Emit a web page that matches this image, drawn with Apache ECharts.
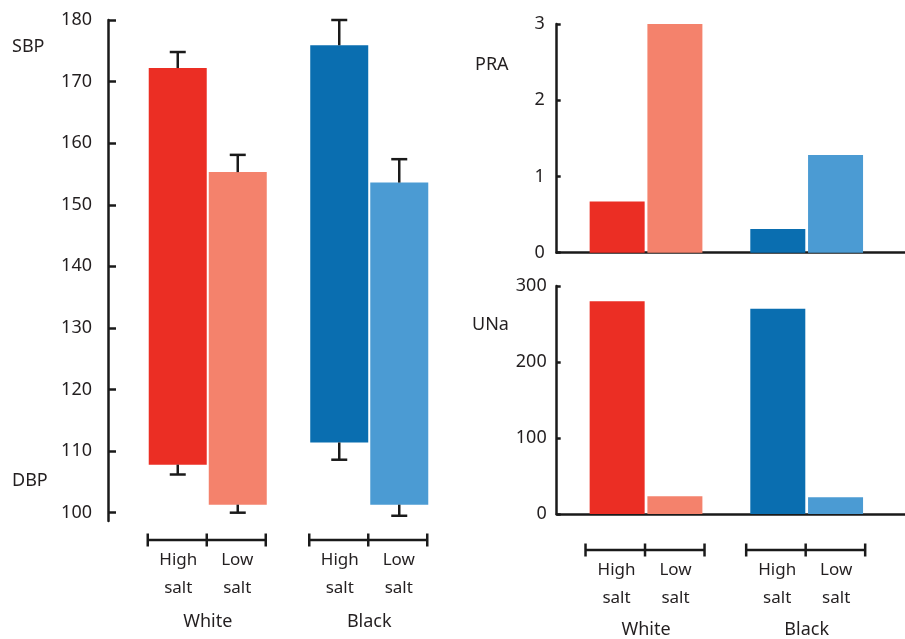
<!DOCTYPE html>
<html><head><meta charset="utf-8">
<script src="https://cdn.jsdelivr.net/npm/echarts@6/dist/echarts.min.js"></script>
<style>html,body{margin:0;padding:0;background:#fff}#c{width:905px;height:639px}</style>
</head><body><div id="c"></div>
<script>
// ---- data ----
const groups = ['White', 'Black'];
const saltLevels = ['High salt', 'Low salt'];
const bpTicks = [100, 110, 120, 130, 140, 150, 160, 170, 180];
const sbpHigh = [172.2, 175.9];
const sbpHighErr = [174.8, 180.0];
const dbpHigh = [107.8, 111.4];
const dbpHighErr = [106.2, 108.6];
const sbpLow = [155.3, 153.6];
const sbpLowErr = [158.1, 157.4];
const dbpLow = [101.3, 101.3];
const dbpLowErr = [100.0, 99.5];
const praHigh = [0.67, 0.31];
const praLow = [3.02, 1.28];
const unaHigh = [280, 270];
const unaLow = [23.5, 22];
const highColors = ['#EB2E24', '#0A6EB0'];
const lowColors = ['#F4826C', '#4B9BD3'];

// ---- style ----
const FONT = 'Noto Sans';
const TXT = '#231f20';
const INK = '#1a1a1a';
const AX = { lineStyle: { color: INK, width: 2.5 } };
const BP_MIN = 98.65;

function labelRich(lh3) {
  return {
    a: { width: 59, align: 'center', lineHeight: 28, fontSize: 17, fontFamily: FONT, color: TXT },
    b: { width: 118, align: 'center', lineHeight: lh3, fontSize: 18, fontFamily: FONT, color: TXT }
  };
}
const groupLabel = name => '{a|High}{a|Low}\n{a|salt}{a|salt}\n{b|' + name + '}';

function errRender(offset) {
  return function (params, api) {
    const i = api.value(0);
    const p0 = api.coord([i, api.value(1)]);
    const p1 = api.coord([i, api.value(2)]);
    const x = p0[0] + offset;
    const st = { stroke: INK, lineWidth: 2.5 };
    return { type: 'group', children: [
      { type: 'line', shape: { x1: x, y1: p0[1], x2: x, y2: p1[1] }, style: st },
      { type: 'line', shape: { x1: x - 8, y1: p1[1], x2: x + 8, y2: p1[1] }, style: st }
    ] };
  };
}

function bracketRender(yVal, dy, half) {
  return function (params, api) {
    const c = api.coord([api.value(0), yVal]);
    const x = c[0] - 1, y = c[1] + dy;
    const st = { stroke: INK, lineWidth: 2.5 };
    return { type: 'group', children: [
      { type: 'line', shape: { x1: x - half, y1: y, x2: x + half, y2: y }, style: st },
      { type: 'line', shape: { x1: x - half, y1: y - 6.5, x2: x - half, y2: y + 6.5 }, style: st },
      { type: 'line', shape: { x1: x, y1: y - 6.5, x2: x, y2: y + 6.5 }, style: st },
      { type: 'line', shape: { x1: x + half, y1: y - 6.5, x2: x + half, y2: y + 6.5 }, style: st }
    ] };
  };
}

const colored = (vals, cols) => vals.map((v, i) => ({ value: v, itemStyle: { color: cols[i] } }));
const coloredXY = (vals, cols) => vals.map((v, i) => ({ value: [i, v], itemStyle: { color: cols[i] } }));

const chart = echarts.init(document.getElementById('c'), null, { renderer: 'canvas' });
const option = {
  animation: false,
  backgroundColor: '#fff',
  textStyle: { fontFamily: FONT, color: TXT },
  grid: [
    { left: 127, width: 323, top: 20, height: 501 },
    { left: 556.7, right: 0, top: 24, height: 228.7 },
    { left: 556.7, right: 0, top: 286, height: 229.7 }
  ],
  xAxis: [
    { gridIndex: 0, type: 'category', data: groups,
      axisLine: { show: false }, axisTick: { show: false },
      axisLabel: { margin: 25, interval: 0, formatter: v => groupLabel(v), rich: labelRich(39) } },
    { gridIndex: 1, type: 'value', min: -0.556, max: 1.612,
      axisLine: { show: true, onZero: false, lineStyle: AX.lineStyle },
      axisTick: { show: false }, axisLabel: { show: false }, splitLine: { show: false } },
    { gridIndex: 2, type: 'value', min: -0.556, max: 1.612,
      axisLine: { show: true, onZero: false, lineStyle: AX.lineStyle },
      axisTick: { show: false }, splitLine: { show: false },
      axisLabel: { margin: 42, customValues: [0, 1],
        formatter: v => groupLabel(groups[Math.round(v)]), rich: labelRich(36) } }
  ],
  yAxis: [
    { gridIndex: 0, type: 'value', min: BP_MIN, max: 180, offset: 19,
      axisLine: { show: true, onZero: false, lineStyle: AX.lineStyle },
      axisTick: { show: true, inside: true, length: 8, lineStyle: { color: INK, width: 2.5 }, customValues: bpTicks },
      axisLabel: { margin: 16, fontSize: 18, color: TXT, fontFamily: FONT, customValues: bpTicks },
      splitLine: { show: false } },
    { gridIndex: 1, type: 'value', min: 0, max: 3, interval: 1,
      axisLine: { show: true, onZero: false, lineStyle: AX.lineStyle },
      axisTick: { show: true, inside: true, length: 4, lineStyle: { color: INK, width: 2.5 } },
      axisLabel: { margin: 12, fontSize: 18, color: TXT, fontFamily: FONT },
      splitLine: { show: false } },
    { gridIndex: 2, type: 'value', min: 0, max: 300, interval: 100,
      axisLine: { show: true, onZero: false, lineStyle: AX.lineStyle },
      axisTick: { show: true, inside: true, length: 4, lineStyle: { color: INK, width: 2.5 } },
      axisLabel: { margin: 10, fontSize: 18, color: TXT, fontFamily: FONT },
      splitLine: { show: false } }
  ],
  series: [
    // BP floating bars (transparent DBP base + SBP-DBP body)
    { name: 'high-base', type: 'bar', xAxisIndex: 0, yAxisIndex: 0, stack: 'high', barWidth: 58, barGap: '3.5%',
      data: dbpHigh, itemStyle: { color: 'transparent' }, silent: true },
    { name: saltLevels[0], type: 'bar', xAxisIndex: 0, yAxisIndex: 0, stack: 'high', barWidth: 58, barGap: '3.5%',
      data: colored(sbpHigh.map((v, i) => v - dbpHigh[i]), highColors) },
    { name: 'low-base', type: 'bar', xAxisIndex: 0, yAxisIndex: 0, stack: 'low', barWidth: 58, barGap: '3.5%',
      data: dbpLow, itemStyle: { color: 'transparent' }, silent: true },
    { name: saltLevels[1], type: 'bar', xAxisIndex: 0, yAxisIndex: 0, stack: 'low', barWidth: 58, barGap: '3.5%',
      data: colored(sbpLow.map((v, i) => v - dbpLow[i]), lowColors) },
    // error bars
    { type: 'custom', xAxisIndex: 0, yAxisIndex: 0, clip: false, z: 5, renderItem: errRender(-30),
      data: groups.map((g, i) => [i, sbpHigh[i], sbpHighErr[i]]) },
    { type: 'custom', xAxisIndex: 0, yAxisIndex: 0, clip: false, z: 5, renderItem: errRender(-30),
      data: groups.map((g, i) => [i, dbpHigh[i], dbpHighErr[i]]) },
    { type: 'custom', xAxisIndex: 0, yAxisIndex: 0, clip: false, z: 5, renderItem: errRender(30),
      data: groups.map((g, i) => [i, sbpLow[i], sbpLowErr[i]]) },
    { type: 'custom', xAxisIndex: 0, yAxisIndex: 0, clip: false, z: 5, renderItem: errRender(30),
      data: groups.map((g, i) => [i, dbpLow[i], dbpLowErr[i]]) },
    // brackets
    { type: 'custom', xAxisIndex: 0, yAxisIndex: 0, clip: false, renderItem: bracketRender(BP_MIN, 19, 59),
      data: groups.map((g, i) => [i, BP_MIN]) },
    // PRA
    { type: 'bar', xAxisIndex: 1, yAxisIndex: 1, barWidth: 55, barGap: '5%', data: coloredXY(praHigh, highColors) },
    { type: 'bar', xAxisIndex: 1, yAxisIndex: 1, barWidth: 55, barGap: '5%', data: coloredXY(praLow, lowColors) },
    // UNa
    { type: 'bar', xAxisIndex: 2, yAxisIndex: 2, barWidth: 55, barGap: '5%', data: coloredXY(unaHigh, highColors) },
    { type: 'bar', xAxisIndex: 2, yAxisIndex: 2, barWidth: 55, barGap: '5%', data: coloredXY(unaLow, lowColors) },
    { type: 'custom', xAxisIndex: 2, yAxisIndex: 2, clip: false, renderItem: bracketRender(0, 36, 59.5),
      data: groups.map((g, i) => [i, 0]) }
  ],
  graphic: [
    { type: 'text', left: 12, top: 38, style: { text: 'SBP', fontSize: 18, fontFamily: FONT, fill: TXT } },
    { type: 'text', left: 12, top: 472, style: { text: 'DBP', fontSize: 18, fontFamily: FONT, fill: TXT } },
    { type: 'text', left: 475, top: 56, style: { text: 'PRA', fontSize: 18, fontFamily: FONT, fill: TXT } },
    { type: 'text', left: 472, top: 316, style: { text: 'UNa', fontSize: 18, fontFamily: FONT, fill: TXT } }
  ]
};
chart.setOption(option);
</script>
</body></html>
